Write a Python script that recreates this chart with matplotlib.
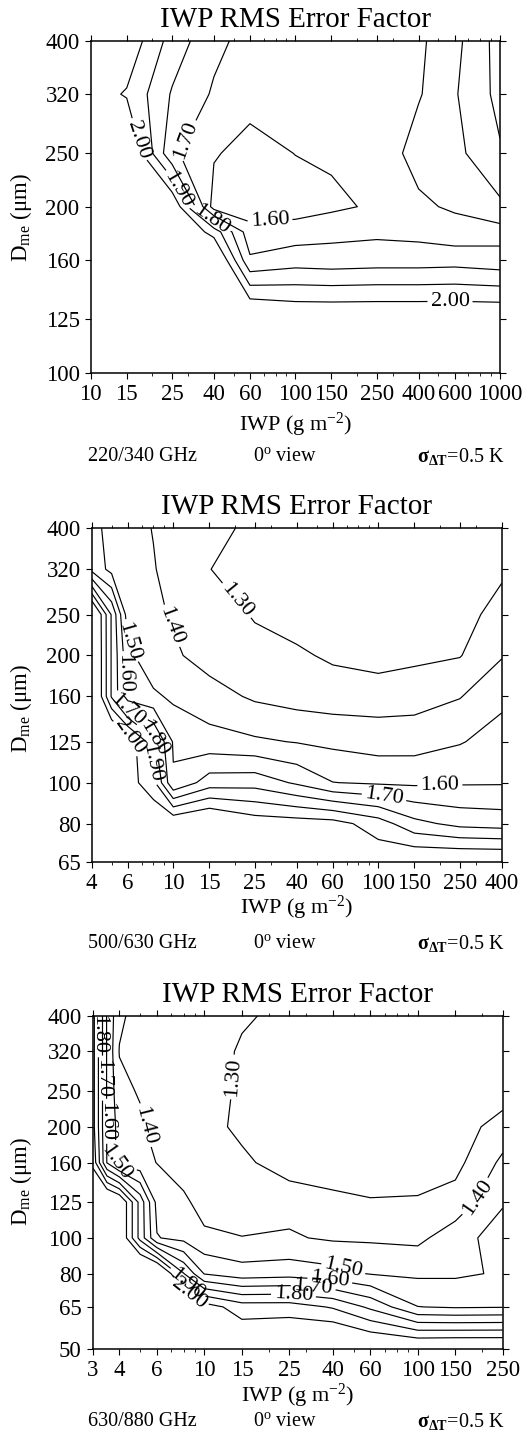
import numpy as np
import matplotlib
matplotlib.use('Agg')
import matplotlib.pyplot as plt

plt.rcParams['font.family'] = ['Liberation Serif', 'DejaVu Serif']
plt.rcParams['mathtext.fontset'] = 'custom'
plt.rcParams['mathtext.rm'] = 'Liberation Serif'
plt.rcParams['mathtext.it'] = 'Liberation Serif:italic'
plt.rcParams['mathtext.bf'] = 'Liberation Serif:bold'

# ---------------- panel 1 : 220/340 GHz ----------------
iwp1 = [10, 15, 25, 40, 60, 100, 150, 250, 400, 600, 1000]
dme1 = [100, 125, 160, 180, 200, 250, 320, 400]
err1 = [
    [2.80, 2.70, 2.60, 2.50, 2.40, 2.35, 2.35, 2.35, 2.35, 2.35, 2.35],
    [2.70, 2.60, 2.50, 2.40, 2.15, 2.105, 2.105, 2.105, 2.105, 2.105, 2.105],
    [2.60, 2.50, 2.40, 2.16, 1.715, 1.754, 1.745, 1.754, 1.754, 1.76, 1.74],
    [2.45, 2.35, 2.14, 1.96, 1.64, 1.65, 1.67, 1.68, 1.67, 1.64, 1.66],
    [2.40, 2.30, 2.104, 1.556, 1.54, 1.55, 1.58, 1.615, 1.675, 1.72, 1.78],
    [2.30, 2.138, 1.72, 1.61, 1.56, 1.602, 1.614, 1.62, 1.75, 1.77, 1.89],
    [2.05, 1.99, 1.79, 1.688, 1.64, 1.63, 1.64, 1.66, 1.69, 1.79, 1.93],
    [2.25, 2.076, 1.859, 1.725, 1.667, 1.65, 1.65, 1.66, 1.68, 1.77, 1.94],
]
lev1 = [1.6, 1.7, 1.8, 1.9, 2.0]
xt1 = [10, 15, 25, 40, 60, 100, 150, 250, 400, 600, 1000]
yt1 = [100, 125, 160, 200, 250, 320, 400]
lab1 = {2.0: [(16.8, 264), (570, 134.5)], 1.9: [(27.3, 216)],
        1.8: [(37.6, 186.6)], 1.7: [(27.8, 266)], 1.6: [(75.2, 187.8)]}

# ---------------- panel 2 : 500/630 GHz ----------------
iwp2 = [4, 5, 6, 8, 10, 15, 25, 40, 60, 100, 150, 250, 400]
dme2 = [65, 80, 100, 125, 160, 200, 250, 320, 400]
err2 = [
    [2.70, 2.50, 2.30, 2.20, 2.20, 2.25, 2.20, 2.20, 2.15, 2.07, 2.11, 2.12, 2.117],
    [2.60, 2.40, 2.20, 2.10, 2.10, 2.15, 2.06, 2.05, 2.04, 1.95, 1.83, 1.77, 1.756],
    [2.50, 2.30, 2.05, 1.93, 1.61, 1.75, 1.76, 1.685, 1.602, 1.587, 1.582, 1.59, 1.592],
    [2.40, 2.20, 2.08, 1.83, 1.59, 1.538, 1.515, 1.495, 1.477, 1.454, 1.457, 1.493, 1.542],
    [2.20, 1.79, 1.55, 1.52, 1.48, 1.44, 1.385, 1.36, 1.35, 1.354, 1.36, 1.395, 1.476],
    [2.20, 1.79, 1.53, 1.42, 1.415, 1.36, 1.32, 1.315, 1.285, 1.258, 1.278, 1.295, 1.393],
    [2.19, 1.79, 1.45, 1.42, 1.39, 1.33, 1.295, 1.26, 1.24, 1.23, 1.235, 1.26, 1.34],
    [1.57, 1.47, 1.45, 1.405, 1.37, 1.302, 1.25, 1.22, 1.21, 1.21, 1.22, 1.24, 1.282],
    [1.55, 1.45, 1.43, 1.397, 1.38, 1.34, 1.27, 1.24, 1.23, 1.23, 1.24, 1.25, 1.27],
]
lev2 = [1.3, 1.4, 1.5, 1.6, 1.7, 1.8, 1.9, 2.0]
xt2 = [4, 6, 10, 15, 25, 40, 60, 100, 150, 250, 400]
yt2 = [65, 80, 100, 125, 160, 200, 250, 320, 400]
lab2 = {1.3: [(20.4, 270)], 1.4: [(9.6, 234)], 1.5: [(5.8, 214)],
        1.6: [(200, 96), (5.3, 181)], 1.7: [(106, 91), (6.0, 149)],
        1.8: [(8.3, 128)], 1.9: [(7.7, 111)], 2.0: [(6.1, 128)]}

# ---------------- panel 3 : 630/880 GHz ----------------
iwp3 = [3, 3.5, 4, 5, 6, 8, 10, 15, 25, 40, 60, 100, 150, 250]
dme3 = [50, 65, 80, 100, 125, 160, 200, 250, 320, 400]
err3 = [
    [2.70, 2.60, 2.55, 2.50, 2.45, 2.40, 2.30, 2.12, 2.15, 2.20, 2.15, 2.14, 2.15, 2.15],
    [2.60, 2.50, 2.40, 2.35, 2.30, 2.20, 2.05, 1.95, 1.95, 1.89, 1.78, 1.602, 1.59, 1.595],
    [2.45, 2.35, 2.30, 2.28, 2.22, 1.805, 1.595, 1.546, 1.56, 1.534, 1.495, 1.483, 1.485, 1.51],
    [2.30, 2.25, 2.123, 1.765, 1.505, 1.47, 1.42, 1.402, 1.41, 1.387, 1.385, 1.376, 1.455, 1.55],
    [2.13, 2.20, 2.123, 1.765, 1.47, 1.42, 1.36, 1.36, 1.37, 1.331, 1.31, 1.316, 1.338, 1.49],
    [1.98, 1.595, 1.46, 1.43, 1.398, 1.35, 1.36, 1.325, 1.24, 1.23, 1.22, 1.22, 1.27, 1.421],
    [1.94, 1.59, 1.46, 1.42, 1.353, 1.35, 1.345, 1.272, 1.25, 1.22, 1.21, 1.21, 1.25, 1.342],
    [1.94, 1.59, 1.43, 1.39, 1.35, 1.345, 1.34, 1.285, 1.26, 1.22, 1.21, 1.21, 1.24, 1.251],
    [1.94, 1.59, 1.395, 1.36, 1.34, 1.34, 1.34, 1.29, 1.27, 1.23, 1.22, 1.22, 1.24, 1.26],
    [1.94, 1.59, 1.42, 1.357, 1.34, 1.335, 1.33, 1.31, 1.28, 1.24, 1.23, 1.23, 1.25, 1.27],
]
lev3 = [1.3, 1.4, 1.5, 1.6, 1.7, 1.8, 1.9, 2.0]
xt3 = [3, 4, 6, 10, 15, 25, 40, 60, 100, 150, 250]
yt3 = [50, 65, 80, 100, 125, 160, 200, 250, 320, 400]
lab3 = {1.3: [(13.4, 273)], 1.4: [(4.9, 200), (193, 128)],
        1.5: [(44, 79.3), (3.75, 160)], 1.6: [(38.7, 76.1), (3.48, 207)],
        1.7: [(32.4, 73.7), (3.33, 271)], 1.8: [(26.2, 70.7), (3.16, 355)],
        1.9: [(8.3, 75.3)], 2.0: [(8.7, 72.2)]}

captions = ['220/340 GHz', '500/630 GHz', '630/880 GHz']

W, H = 525, 1445
fig = plt.figure(figsize=(W / 100, H / 100), dpi=100)


def add_box(left, top, right, bottom):
    return fig.add_axes([left / W, 1 - bottom / H, (right - left) / W, (bottom - top) / H])


def draw_panel(ax, iwp, dme, err, levels, xt, yt, lab):
    x = np.log10(iwp)
    y = np.log10(dme)
    z = np.array(err)
    # one contour set per level so each label lands on its own line
    for lev in levels:
        cs = ax.contour(x, y, z, levels=[lev], colors='k', linewidths=0.85)
        pts = lab.get(lev)
        if pts:
            ax.clabel(cs, manual=[(np.log10(a), np.log10(b)) for a, b in pts],
                      inline=True, inline_spacing=3, fmt='%.2f', fontsize=16)
    ax.set_xlim(x[0], x[-1])
    ax.set_ylim(y[0], y[-1])
    ax.set_xticks(np.log10(xt))
    ax.set_xticklabels([str(v) for v in xt])
    ax.set_yticks(np.log10(yt))
    ax.set_yticklabels([str(v) for v in yt])
    minor = [m * 10 ** e for e in range(0, 4) for m in range(2, 10)]
    minor = [v for v in minor if iwp[0] < v < iwp[-1] and v not in xt]
    ax.set_xticks(np.log10(minor), minor=True)
    ax.tick_params(which='both', direction='out', top=True, right=True,
                   labelsize=16.5, colors='k')
    ax.tick_params(which='major', length=4, width=0.8, pad=4)
    ax.tick_params(which='minor', length=2, width=0.6)
    for s in ax.spines.values():
        s.set_linewidth(1.1)


boxes = [(90.7, 40.7, 500, 372.7), (91.7, 528.3, 501.7, 861.7), (92.7, 1015.7, 502.7, 1349)]
data = [(iwp1, dme1, err1, lev1, xt1, yt1, lab1),
        (iwp2, dme2, err2, lev2, xt2, yt2, lab2),
        (iwp3, dme3, err3, lev3, xt3, yt3, lab3)]
title_y = [20, 507, 995]
ylab_y = [218, 709, 1182]
xlab_y = [425, 908, 1396]
cap_y = [457, 944, 1422]

for i in range(3):
    l, t, r, b = boxes[i]
    ax = add_box(l, t, r, b)
    draw_panel(ax, *data[i])
    cx = (l + r) / 2
    fig.text(cx / W, 1 - title_y[i] / H, 'IWP RMS Error Factor', ha='center', va='center', fontsize=21)
    fig.text(cx / W, 1 - xlab_y[i] / H, r'IWP (g m$^{-2}$)', ha='center', va='center', fontsize=16)
    fig.text(21 / W, 1 - ylab_y[i] / H, r'D$_{\mathrm{me}}$ (μm)', ha='center', va='center',
             rotation=90, fontsize=16.5)
    fig.text(142 / W, 1 - cap_y[i] / H, captions[i], ha='center', va='center', fontsize=14.5)
    fig.text(285 / W, 1 - cap_y[i] / H, r'0$^{\mathrm{o}}$ view', ha='center', va='center', fontsize=14.5)
    fig.text(505 / W, 1 - cap_y[i] / H, r'$\mathbf{\sigma_{\Delta T}}$=0.5 K', ha='right', va='center',
             fontsize=14.5)

fig.savefig('out.png', dpi=100, facecolor='white')
